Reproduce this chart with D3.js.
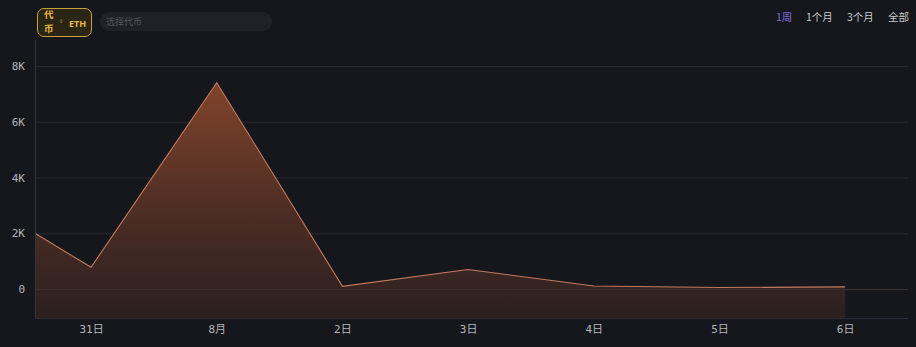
<!DOCTYPE html>
<html>
<head>
<meta charset="utf-8">
<script src="https://cdn.jsdelivr.net/npm/d3@7"></script>
<style>
  html, body { margin: 0; padding: 0; background: #16171c; }
  body { width: 916px; height: 347px; overflow: hidden; position: relative; font-family: "DejaVu Sans Mono", "Noto Sans CJK SC", monospace; }
  .tok { position: absolute; left: 37px; top: 8px; width: 55px; height: 29px; box-sizing: border-box;
         border: 1px solid #c9a13c; border-radius: 7px; background: #2b2516; color: #e6b743; font-size: 10px; font-weight: bold; }
  .tok .l { position: absolute; left: 6px; line-height: 1; font-size: 9.5px; font-family: "Noto Sans CJK SC"; }
  .tok .l1 { top: 1px; }
  .tok .l2 { top: 15px; }
  .tok .i { position: absolute; left: 21px; top: 8px; color: #8a7540; font-size: 7px; }
  .tok .e { position: absolute; left: 31px; top: 8px; font-family: "Noto Sans", sans-serif; font-size: 9px; }
  .inp { position: absolute; left: 100px; top: 12px; width: 172px; height: 19px; border-radius: 9px; background: #202127;
         color: #55565c; font-size: 9px; line-height: 19px; padding-left: 6px; box-sizing: border-box; font-family: "Noto Sans CJK SC"; }
  .rng { position: absolute; top: 9px; font-size: 10.5px; color: #c9cacf; font-family: "Noto Sans CJK SC"; }
  .rng.on { color: #7c6cd8; }
</style>
</head>
<body>
<div class="tok"><div class="l l1">代</div><div class="l l2">币</div><div class="i">⇕</div><div class="e">ETH</div></div>
<div class="inp">选择代币</div>
<div id="ranges"></div>
<svg id="chart" width="916" height="347" style="position:absolute;left:0;top:0"></svg>
<script>
// period buttons
const ranges = ["1周", "1个月", "3个月", "全部"];
const rangeX = [776, 806, 847, 888];

// series (daily volume, ETH)
const dates = ["2023-07-30T13:18", "2023-07-31", "2023-08-01", "2023-08-02", "2023-08-03", "2023-08-04", "2023-08-05", "2023-08-06"];
const values = [2000, 780, 7400, 100, 700, 110, 55, 80];

const yTicks = [0, 2000, 4000, 6000, 8000];
const yTickLabels = ["0", "2K", "4K", "6K", "8K"];
const xTickDates = ["2023-07-31", "2023-08-01", "2023-08-02", "2023-08-03", "2023-08-04", "2023-08-05", "2023-08-06"];
const xTickLabels = ["31日", "8月", "2日", "3日", "4日", "5日", "6日"];
const xDomain = ["2023-07-30T13:18", "2023-08-06T12:00"];

d3.select("#ranges").selectAll("div")
  .data(ranges).enter().append("div")
  .attr("class", (d, i) => i === 0 ? "rng on" : "rng")
  .style("left", (d, i) => rangeX[i] + "px")
  .text(d => d);

const parse = d3.isoParse;
const data = dates.map((d, i) => ({ date: parse(d), value: values[i] }));

const mLeft = 35, mRight = 908, mTop = 40, mBottom = 318;
const svg = d3.select("#chart");

const x = d3.scaleTime().domain(xDomain.map(parse)).range([mLeft, mRight]);
const y = d3.scaleLinear().domain([-1036, 8930]).range([mBottom, mTop]);

// gradient for the area
const defs = svg.append("defs");
const grad = defs.append("linearGradient").attr("id", "ag")
  .attr("x1", 0).attr("y1", 0).attr("x2", 0).attr("y2", 1);
grad.append("stop").attr("offset", "0%").attr("stop-color", "#80442a");
grad.append("stop").attr("offset", "55%").attr("stop-color", "#4d2d24");
grad.append("stop").attr("offset", "100%").attr("stop-color", "#2b201f");

// grid lines
svg.append("g").selectAll("line")
  .data(yTicks).enter().append("line")
  .attr("x1", mLeft).attr("x2", mRight)
  .attr("y1", d => y(d) + 0.5).attr("y2", d => y(d) + 0.5)
  .attr("stroke", "#2a2c33").attr("stroke-width", 1);

// area + line
svg.append("path").datum(data)
  .attr("fill", "url(#ag)")
  .attr("d", d3.area().x(d => x(d.date)).y0(mBottom).y1(d => y(d.value)));

// zero line drawn over area faintly
svg.append("line")
  .attr("x1", mLeft).attr("x2", mRight)
  .attr("y1", y(0) + 0.5).attr("y2", y(0) + 0.5)
  .attr("stroke", "#3a2f30").attr("stroke-width", 1);

svg.append("path").datum(data)
  .attr("fill", "none")
  .attr("stroke", "#c27a5c").attr("stroke-width", 1.1)
  .attr("d", d3.line().x(d => x(d.date)).y(d => y(d.value)));

// bottom & left axis lines
svg.append("line").attr("x1", mLeft).attr("x2", mRight)
  .attr("y1", mBottom + 0.5).attr("y2", mBottom + 0.5)
  .attr("stroke", "#2c2b3d");
svg.append("line").attr("x1", mLeft + 0.5).attr("x2", mLeft + 0.5)
  .attr("y1", mTop).attr("y2", mBottom)
  .attr("stroke", "#34363e");

// y axis labels
const yAxis = d3.axisLeft(y).tickValues(yTicks)
  .tickFormat((d, i) => yTickLabels[i]).tickSize(0).tickPadding(10);
const ya = svg.append("g").attr("transform", `translate(${mLeft},0)`).call(yAxis);
ya.select(".domain").remove();
ya.selectAll("text").attr("fill", "#b4b5bb").style("font-size", "11px")
  .style("font-family", "DejaVu Sans Mono");

// x axis labels
const xAxis = d3.axisBottom(x).tickValues(xTickDates.map(parse))
  .tickFormat((d, i) => xTickLabels[i]).tickSize(0).tickPadding(7);
const xa = svg.append("g").attr("transform", `translate(0,${mBottom})`).call(xAxis);
xa.select(".domain").remove();
xa.selectAll("text").attr("fill", "#b4b5bb").style("font-size", "11px")
  .style("font-family", "DejaVu Sans Mono, Noto Sans CJK SC");
</script>
</body>
</html>
